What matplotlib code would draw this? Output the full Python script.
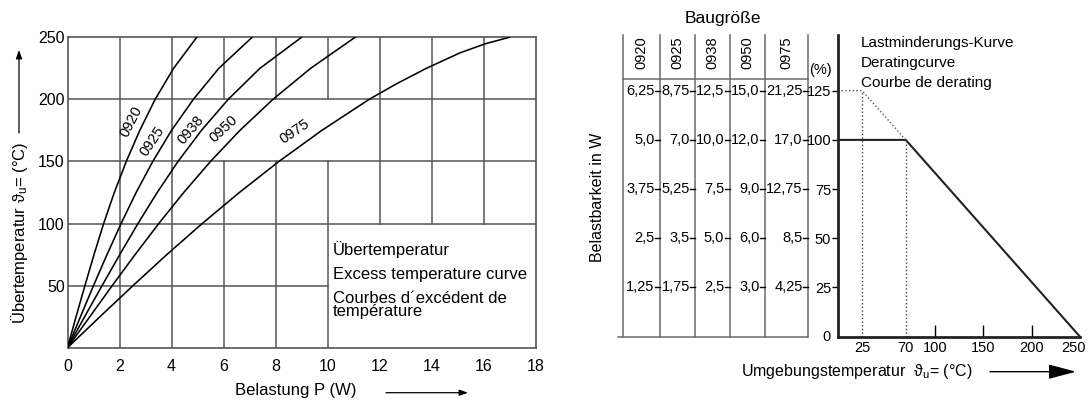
import matplotlib
matplotlib.use('Agg')
import matplotlib.pyplot as plt
from matplotlib.transforms import ScaledTranslation

plt.rcParams['font.family'] = ['Liberation Sans', 'DejaVu Sans']
plt.rcParams['mathtext.fontset'] = 'custom'
plt.rcParams['mathtext.rm'] = 'Liberation Sans'
plt.rcParams['mathtext.it'] = 'Liberation Sans'
plt.rcParams['mathtext.default'] = 'regular'

# ---------------- data: excess temperature curves ----------------
temp_c = [0, 25, 50, 75, 100, 125, 150, 175, 200, 225, 250]
p_0920 = [0, 0.33, 0.67, 1.02, 1.39, 1.80, 2.26, 2.78, 3.37, 4.08, 4.97]
p_0925 = [0, 0.50, 1.00, 1.52, 2.06, 2.64, 3.28, 4.00, 4.84, 5.82, 7.10]
p_0938 = [0, 0.66, 1.33, 2.01, 2.71, 3.45, 4.25, 5.15, 6.18, 7.40, 9.00]
p_0950 = [0, 0.86, 1.72, 2.60, 3.51, 4.47, 5.50, 6.63, 7.90, 9.35, 11.06]
temp_0975 = [0, 25, 50, 75, 100, 125, 150, 175, 200, 212.5, 225, 237.5, 245, 250]
p_0975 = [0, 1.25, 2.52, 3.82, 5.18, 6.61, 8.13, 9.78, 11.60, 12.65, 13.80,
          15.10, 16.10, 17.0]
curve_names = ['0920', '0925', '0938', '0950', '0975']

x_ticks_left = [0, 2, 4, 6, 8, 10, 12, 14, 16, 18]
y_ticks_left = [50, 100, 150, 200, 250]

# ---------------- data: derating table ----------------
sizes = ['0920', '0925', '0938', '0950', '0975']
pct_levels = [125, 100, 75, 50, 25]
load_0920 = [6.25, 5.0, 3.75, 2.5, 1.25]
load_0925 = [8.75, 7.0, 5.25, 3.5, 1.75]
load_0938 = [12.5, 10.0, 7.5, 5.0, 2.5]
load_0950 = [15.0, 12.0, 9.0, 6.0, 3.0]
load_0975 = [21.25, 17.0, 12.75, 8.5, 4.25]

derate_temp = [0, 70, 250]
derate_pct = [100, 100, 0]
over_temp = [0, 25, 70]
over_pct = [125, 125, 100]
x_ticks_right = [25, 70, 100, 150, 200, 250]

W, H = 1089, 400
fig = plt.figure(figsize=(W / 100, H / 100), dpi=100)


def fx(px):
    return px / W


def fy(py):
    return 1 - py / H


# ================= left chart =================
axL = fig.add_axes([fx(67.5), fy(347.7), (535.5 - 67.5) / W, (347.7 - 37.3) / H])
axL.set_xlim(0, 18)
axL.set_ylim(0, 250)
grid_col = '#555555'
hgrid = [(50, 0, 10), (100, 0, 18), (150, 0, 18), (200, 0, 18)]
vgrid = [(2, [(0, 250)]), (4, [(0, 250)]),
         (6, [(0, 150), (200, 250)]), (8, [(0, 150), (200, 250)]),
         (10, [(0, 150), (200, 250)]),
         (12, [(100, 250)]), (14, [(100, 250)]), (16, [(100, 250)])]
for y, x0, x1 in hgrid:
    axL.plot([x0, x1], [y, y], color=grid_col, lw=1.1, zorder=1)
for x, segs in vgrid:
    for y0, y1 in segs:
        axL.plot([x, x], [y0, y1], color=grid_col, lw=1.1, zorder=1)

for p, t in [(p_0920, temp_c), (p_0925, temp_c), (p_0938, temp_c),
             (p_0950, temp_c), (p_0975, temp_0975)]:
    axL.plot(p, t, color='black', lw=1.15, zorder=3, solid_joinstyle='round')

label_layout = {'0920': (2.47, 182, 63), '0925': (3.27, 166, 56),
                '0938': (4.74, 175, 50), '0950': (6.02, 176, 43),
                '0975': (8.72, 174, 34)}
for name in curve_names:
    x, y, ang = label_layout[name]
    axL.text(x, y, name, rotation=ang, ha='center', va='center',
             fontsize=10.5, rotation_mode='anchor', zorder=4)

for s in axL.spines.values():
    s.set_color(grid_col)
    s.set_linewidth(1.2)
axL.set_xticks(x_ticks_left)
axL.set_yticks(y_ticks_left)
axL.tick_params(axis='both', length=0, labelsize=11.5)
axL.tick_params(axis='x', pad=8)
axL.tick_params(axis='y', pad=2)

axL.text(10.22, 78.7, 'Übertemperatur', fontsize=12, va='center')
axL.text(10.22, 58.6, 'Excess temperature curve', fontsize=12, va='center')
axL.text(10.22, 34.2, 'Courbes d´excédent de\ntempérature', fontsize=12,
         va='center', linespacing=0.85)

fig.text(fx(19), fy(233), 'Übertemperatur ϑ$_u$= (°C)', rotation=90,
         ha='center', va='center', fontsize=12)
fig.text(fx(296), fy(391), 'Belastung P (W)', ha='center', va='center', fontsize=12)
axL.annotate('', xy=(fx(19), fy(50)), xytext=(fx(19), fy(133)),
             xycoords='figure fraction', textcoords='figure fraction',
             arrowprops=dict(arrowstyle='-|>,head_length=0.5,head_width=0.18',
                             color='black', lw=0.9, mutation_scale=10,
                             shrinkA=0, shrinkB=0))
axL.annotate('', xy=(fx(468), fy(392.7)), xytext=(fx(386), fy(392.7)),
             xycoords='figure fraction', textcoords='figure fraction',
             arrowprops=dict(arrowstyle='-|>,head_length=0.5,head_width=0.18',
                             color='black', lw=0.9, mutation_scale=10,
                             shrinkA=0, shrinkB=0))

# ================= table =================
ytop = 153.3
axT = fig.add_axes([fx(618), fy(336.7), (838 - 618) / W, (336.7 - 35) / H])
axT.set_xlim(0, 220)
axT.set_ylim(0, ytop)
axT.axis('off')
col_edges = [4.7, 42, 77.3, 111.7, 147, 190.3]
tab_col = '#6a6a6a'
for xe in col_edges:
    axT.plot([xe, xe], [0, ytop], color=tab_col, lw=1.1, clip_on=False)
axT.plot([col_edges[0], col_edges[-1]], [130.9, 130.9], color=tab_col, lw=1.1)
axT.plot([0, col_edges[-1]], [0, 0], color=tab_col, lw=1.1, clip_on=False)


def fmt(v):
    s = f'{v:.2f}'.rstrip('0')
    if s.endswith('.'):
        s += '0'
    return s.replace('.', ',')


loads = [load_0920, load_0925, load_0938, load_0950, load_0975]
for i, (name, vals) in enumerate(zip(sizes, loads)):
    xc = (col_edges[i] + col_edges[i + 1]) / 2
    axT.text(xc, 144.2, name, rotation=90, ha='center', va='center', fontsize=10.5)
    xr = col_edges[i + 1]
    for pct, v in zip(pct_levels, vals):
        axT.plot([xr - 5, xr], [pct, pct], color='black', lw=1)
        axT.text(xr - 5.5, pct, fmt(v), ha='right', va='center', fontsize=10.5)
axT.text(202, 135.5, '(%)', ha='center', va='center', fontsize=10.5)

# ================= derating chart =================
axD = fig.add_axes([fx(838), fy(336.7), (1080 - 838) / W, (336.7 - 35) / H])
axD.set_xlim(0, 250)
axD.set_ylim(0, ytop)
for k in ['top', 'right']:
    axD.spines[k].set_visible(False)
for k in ['left', 'bottom']:
    axD.spines[k].set_linewidth(2)
    axD.spines[k].set_color('#222222')
axD.plot(derate_temp, derate_pct, color='#222222', lw=1.5, clip_on=False)
axD.plot(over_temp, over_pct, color='#555555', lw=1, ls=':')
axD.plot([over_temp[1], over_temp[1]], [0, over_pct[1]], color='#444444', lw=1, ls=':')
axD.plot([over_temp[2], over_temp[2]], [0, over_pct[2]], color='#444444', lw=1, ls=':')

axD.set_yticks(pct_levels)
axD.set_yticklabels([str(p) for p in pct_levels])
axD.tick_params(axis='y', direction='out', length=4, width=1, labelsize=10.5, pad=1)
axD.annotate('0', xy=(0, 0), xytext=(-5, 0), textcoords='offset points',
             ha='right', va='center', fontsize=10.5, annotation_clip=False)
axD.set_xticks(x_ticks_right)
axD.set_xticklabels([str(t) for t in x_ticks_right])
axD.tick_params(axis='x', direction='in', length=9, width=1, labelsize=10.5, pad=3)
for t, tick in zip(x_ticks_right, axD.xaxis.get_major_ticks()):
    if t in (25, 70, 250):
        tick.tick1line.set_visible(False)
lab = axD.get_xticklabels()[-1]
lab.set_transform(lab.get_transform() + ScaledTranslation(-6 / 100, 0, fig.dpi_scale_trans))

fig.text(fx(861), fy(42.7), 'Lastminderungs-Kurve', fontsize=11, va='center')
fig.text(fx(861), fy(63.3), 'Deratingcurve', fontsize=11, va='center')
fig.text(fx(861), fy(83.3), 'Courbe de derating', fontsize=11, va='center')

fig.text(fx(723), fy(18), 'Baugröße', ha='center', va='center', fontsize=12.5)
fig.text(fx(598), fy(197), 'Belastbarkeit in W', rotation=90, ha='center',
         va='center', fontsize=11.5)
fig.text(fx(857), fy(371.7), 'Umgebungstemperatur  ϑ$_u$= (°C)', ha='center',
         va='center', fontsize=11.5)
axD.annotate('', xy=(fx(1076), fy(371.7)), xytext=(fx(990), fy(371.7)),
             xycoords='figure fraction', textcoords='figure fraction',
             annotation_clip=False,
             arrowprops=dict(arrowstyle='-|>,head_length=1.7,head_width=0.45',
                             color='black', lw=1, mutation_scale=10,
                             shrinkA=0, shrinkB=0))

fig.savefig('out.png', dpi=100)
